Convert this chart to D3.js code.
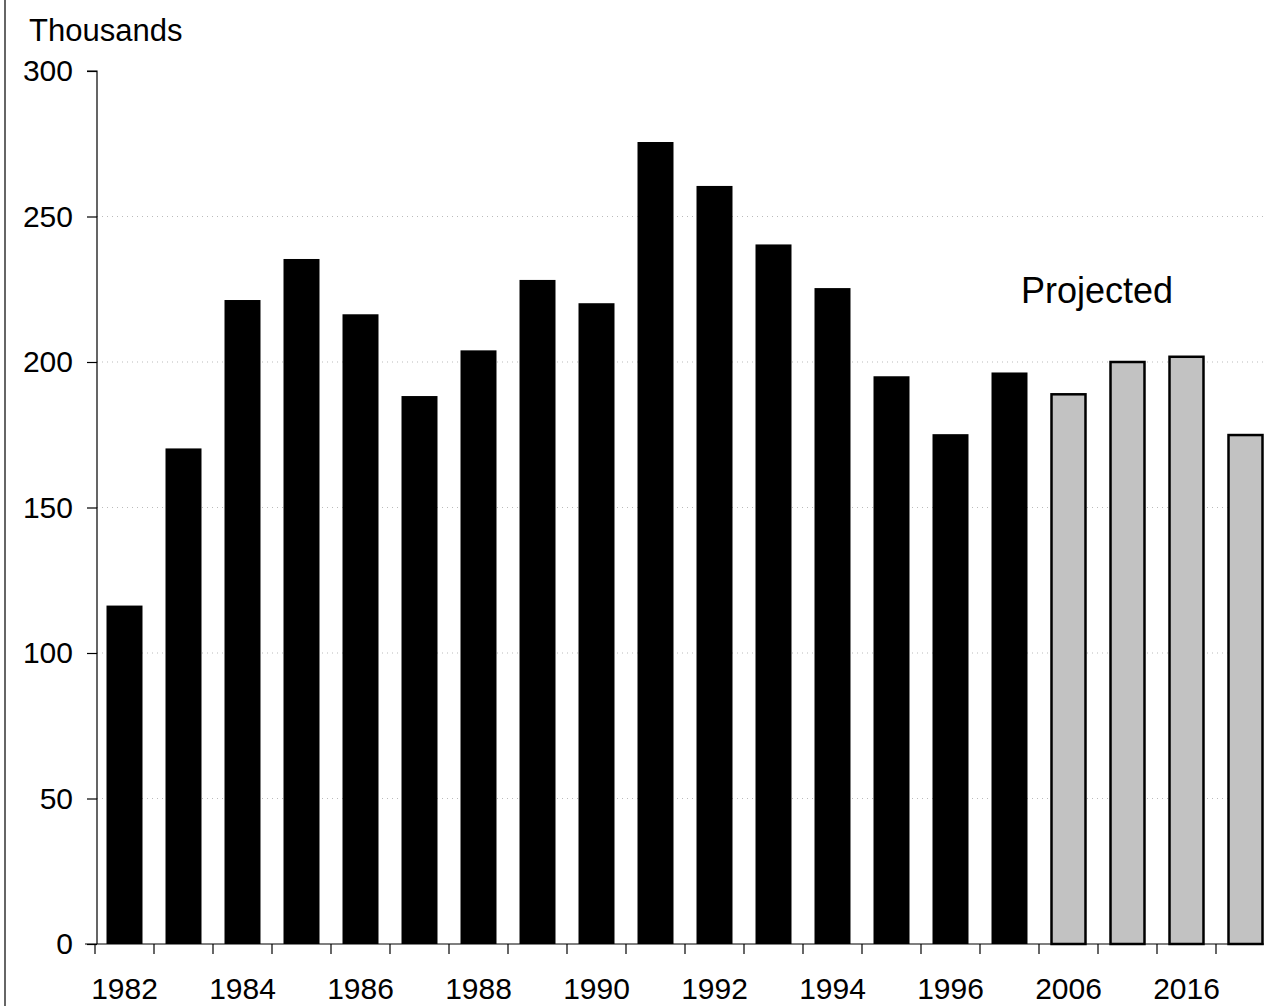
<!DOCTYPE html>
<html>
<head>
<meta charset="utf-8">
<script src="https://cdn.jsdelivr.net/npm/d3@7"></script>
<style>
  body { margin: 0; background: #fff; }
  svg { display: block; }
  text { font-family: "Liberation Sans", Arial, Helvetica, sans-serif; fill: #000; }
  .axis path, .axis line { stroke: #000; stroke-width: 1.2; }
  .grid line { stroke: #bbb; stroke-width: 1; stroke-dasharray: 1,4; }
</style>
</head>
<body>
<svg id="chart" width="1264" height="1006"></svg>
<script>
// data (thousands)
let years = ["1982","1983","1984","1985","1986","1987","1988","1989","1990","1991",
             "1992","1993","1994","1995","1996","1997","2006","2011","2016","2021"]
let values = [116.3, 170.3, 221.3, 235.4, 216.4, 188.3, 204.0, 228.2, 220.2, 275.6,
              260.5, 240.4, 225.4, 195.1, 175.2, 196.4, 188.9, 200.0, 201.8, 174.9]
let projected = ["2006","2011","2016","2021"]
let yTicks = [0, 50, 100, 150, 200, 250, 300]
let gridTicks = [50, 100, 150, 200, 250]

let data = years.map(function (y, i) {
    return {year: y, value: values[i], proj: projected.indexOf(y) >= 0}
})

let svg = d3.select("#chart")
let mLeft = 97, mRight = 1275, mTop = 71, mBottom = 944

let xScale = d3.scaleBand().domain(years).range([95, mRight])
                .paddingInner(0.39).paddingOuter(0.195)
let yScale = d3.scaleLinear().domain([0, 300]).range([mBottom, mTop])

// left frame line
svg.append("line")
    .attr("x1", 5).attr("x2", 5).attr("y1", 0).attr("y2", 1006)
    .attr("stroke", "#333").attr("stroke-width", 1.5)

// dotted gridlines
svg.append("g").attr("class", "grid")
    .selectAll("line")
    .data(gridTicks)
    .enter()
    .append("line")
    .attr("x1", mLeft).attr("x2", mRight)
    .attr("y1", function (d) { return yScale(d) })
    .attr("y2", function (d) { return yScale(d) })

// bars
svg.selectAll(".bar")
    .data(data)
    .enter()
    .append("rect")
    .attr("class", "bar")
    .attr("x", function (d) { return xScale(d.year) + (d.proj ? 1 : 0) })
    .attr("y", function (d) { return yScale(d.value) })
    .attr("width", function (d) { return xScale.bandwidth() - (d.proj ? 2 : 0) })
    .attr("height", function (d) { return yScale(0) - yScale(d.value) })
    .attr("fill", function (d) { return d.proj ? "#c2c2c2" : "#000" })
    .attr("stroke", function (d) { return d.proj ? "#000" : "none" })
    .attr("stroke-width", 2.5)

// Y axis
let y_axis = d3.axisLeft(yScale).tickValues(yTicks).tickSize(10).tickPadding(14)
let gy = svg.append("g").attr("class", "axis")
    .attr("transform", `translate(${mLeft},0)`)
    .call(y_axis)
gy.select(".domain").attr("d", `M-10,${mTop}H0V${mBottom}`)
gy.selectAll("text").style("font-size", "30px")

// X axis: labels on every other bar, ticks at band edges
let x_axis = d3.axisBottom(xScale).tickSize(0).tickPadding(34)
    .tickFormat(function (d, i) { return i % 2 === 0 ? d : "" })
let gx = svg.append("g").attr("class", "axis")
    .attr("transform", `translate(0,${mBottom})`)
    .call(x_axis)
gx.select(".domain").attr("d", `M85,0H${mRight}`)
gx.selectAll("text").style("font-size", "30px")

let step = xScale.step()
gx.selectAll(".edge")
    .data(years)
    .enter()
    .append("line")
    .attr("class", "edge")
    .attr("x1", function (d) { return xScale(d) - step * 0.195 })
    .attr("x2", function (d) { return xScale(d) - step * 0.195 })
    .attr("y1", 0).attr("y2", 10)

// unit label and annotation
svg.append("text")
    .attr("x", 29).attr("y", 41)
    .style("font-size", "31px")
    .text("Thousands")

svg.append("text")
    .attr("x", 1021).attr("y", 303)
    .style("font-size", "36px")
    .text("Projected")
</script>
</body>
</html>
